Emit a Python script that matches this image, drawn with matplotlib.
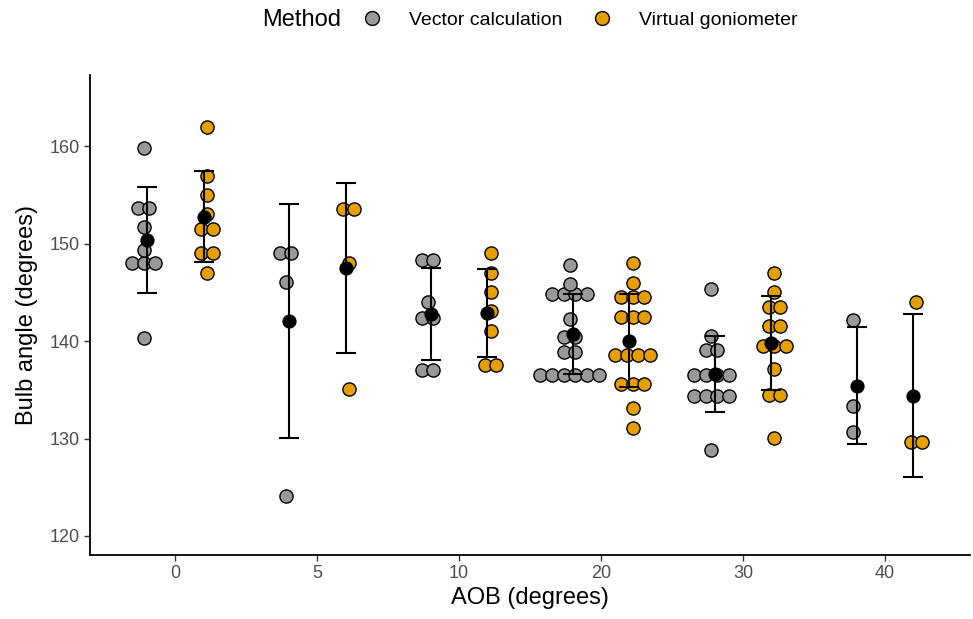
import numpy as np
import matplotlib
matplotlib.use("Agg")
import matplotlib.pyplot as plt
from matplotlib.lines import Line2D

plt.rcParams['font.family'] = ['Liberation Sans', 'DejaVu Sans']

# AOB categories
aob = ["0", "5", "10", "20", "30", "40"]
methods = ["Vector calculation", "Virtual goniometer"]
colors = ["#999999", "#E69F00"]

# dot values (binned)
vector_dots = [
    [159.8, 153.6, 153.6, 151.7, 149.3, 148.0, 148.0, 148.0, 140.3],
    [149.0, 149.0, 146.05, 124.1],
    [148.3, 148.3, 144.0, 142.4, 142.4, 137.0, 137.0],
    [147.8, 145.8, 144.8, 144.8, 144.8, 144.8, 142.3, 140.4, 140.4,
     138.9, 138.9, 136.5, 136.5, 136.5, 136.5, 136.5, 136.5],
    [145.3, 140.5, 139.1, 139.1, 136.5, 136.5, 136.5, 136.5,
     134.35, 134.35, 134.35, 134.35, 128.8],
    [142.2, 133.3, 130.7],
]
virtual_dots = [
    [162.0, 156.9, 155.0, 153.0, 151.5, 151.5, 149.0, 149.0, 147.0],
    [153.5, 153.5, 148.0, 135.05],
    [149.0, 147.0, 145.0, 143.1, 141.05, 137.5, 137.5],
    [148.0, 146.0, 144.5, 144.5, 144.5, 142.5, 142.5, 142.5,
     138.6, 138.6, 138.6, 138.6, 135.6, 135.6, 135.6, 133.1, 131.1],
    [147.0, 145.0, 143.5, 143.5, 141.5, 141.5, 139.5, 139.5, 139.5,
     137.1, 134.5, 134.5, 130.1],
    [144.0, 129.6, 129.6],
]

# mean and standard deviation per group
vector_mean = [150.35, 142.05, 142.8, 140.7, 136.6, 135.4]
vector_sd = [5.4, 12.0, 4.7, 4.1, 3.9, 6.0]
virtual_mean = [152.75, 147.5, 142.9, 140.05, 139.8, 134.4]
virtual_sd = [4.65, 8.7, 4.5, 4.8, 4.8, 8.35]

dots = [vector_dots, virtual_dots]
means = [vector_mean, virtual_mean]
sds = [vector_sd, virtual_sd]

fig = plt.figure(figsize=(9.73, 6.19), dpi=100)
ax = fig.add_axes([0.0925, 0.1034, 0.9045, 0.7756])

x = np.arange(len(aob))
dot_dodge = [-0.222, 0.222]
bar_dodge = [-0.2, 0.2]
step = 0.082

for m in range(2):
    for g in range(len(aob)):
        vals = np.array(dots[m][g])
        for v in np.unique(vals):
            n = int(np.sum(vals == v))
            xs = x[g] + dot_dodge[m] + (np.arange(n) - (n - 1) / 2) * step
            ax.scatter(xs, [v] * n, s=90, facecolor=colors[m],
                       edgecolor="black", linewidth=1.0, zorder=2)
    ax.errorbar(x + bar_dodge[m], means[m], yerr=sds[m], fmt="none",
                ecolor="black", elinewidth=1.5, capsize=7.5,
                capthick=1.5, zorder=3)
    ax.scatter(x + bar_dodge[m], means[m], s=85, color="black", zorder=4)

ax.set_xlim(-0.6, 5.6)
ax.set_ylim(118.05, 167.3)
ax.set_xticks(x)
ax.set_xticklabels(aob)
ax.set_yticks([120, 130, 140, 150, 160])

for s in ["top", "right"]:
    ax.spines[s].set_visible(False)
for s in ["left", "bottom"]:
    ax.spines[s].set_linewidth(1.3)
    ax.spines[s].set_color("black")
ax.tick_params(axis="both", labelsize=13, labelcolor="#4D4D4D",
               color="#333333", length=4, width=1.0)

ax.set_xlabel("AOB (degrees)", fontsize=17, labelpad=3)
ax.set_ylabel("Bulb angle (degrees)", fontsize=17, labelpad=8)

# legend at top
fig.text(262 / 973, 1 - 20 / 619, "Method", fontsize=17,
         ha="left", va="center")
handles = [Line2D([], [], linestyle="none", marker="o", markersize=10,
                  markerfacecolor=c, markeredgecolor="black",
                  markeredgewidth=1.0) for c in colors]
fig.legend(handles, methods, ncol=2, loc="center left",
           bbox_to_anchor=(353 / 973, 1 - 20 / 619), frameon=False,
           fontsize=14, handletextpad=1.3, columnspacing=1.4,
           handlelength=1.2, borderaxespad=0)

fig.savefig("out.png", dpi=100)
